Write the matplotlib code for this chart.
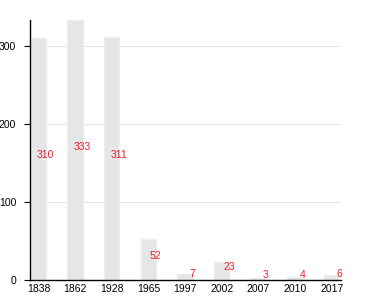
import numpy as np
import matplotlib.pyplot as plt

years = ["1838", "1862", "1928", "1965", "1997", "2002", "2007", "2010", "2017"]
values = [310, 333, 311, 52, 7, 23, 3, 4, 6]

plt.rcParams['font.family'] = ['Liberation Sans', 'DejaVu Sans']

fig = plt.figure(figsize=(3.8, 3.0), dpi=100)
ax = fig.add_axes([0.079, 0.067, 0.818, 0.866])

x = np.arange(len(years))
ax.bar(x, values, width=0.42, color="#e6e6e6", edgecolor="#eeeeee",
       linewidth=1, zorder=2)

for xi, v in zip(x, values):
    ax.annotate(str(v), (xi + 0.2, v / 2), xytext=(0, 2.5),
                textcoords="offset points", color="#e8202a", fontsize=7.5,
                ha="center", va="center", zorder=3)

ax.set_xlim(-0.23, len(years) - 1 + 0.25)
ax.set_ylim(0, 333)
ax.set_xticks(x)
ax.set_xticklabels(years)
ax.set_yticks([0, 100, 200, 300])
ax.yaxis.grid(True, color="#e6e6e6", linewidth=0.8, zorder=0)
ax.set_axisbelow(True)

ax.tick_params(axis="x", length=0, labelsize=7.5, pad=3)
ax.tick_params(axis="y", length=4, width=0.8, labelsize=7.5, pad=6)
for s in ["top", "right"]:
    ax.spines[s].set_visible(False)
ax.spines["left"].set_linewidth(1)
ax.spines["bottom"].set_linewidth(1)

fig.savefig("out.png", dpi=100)
